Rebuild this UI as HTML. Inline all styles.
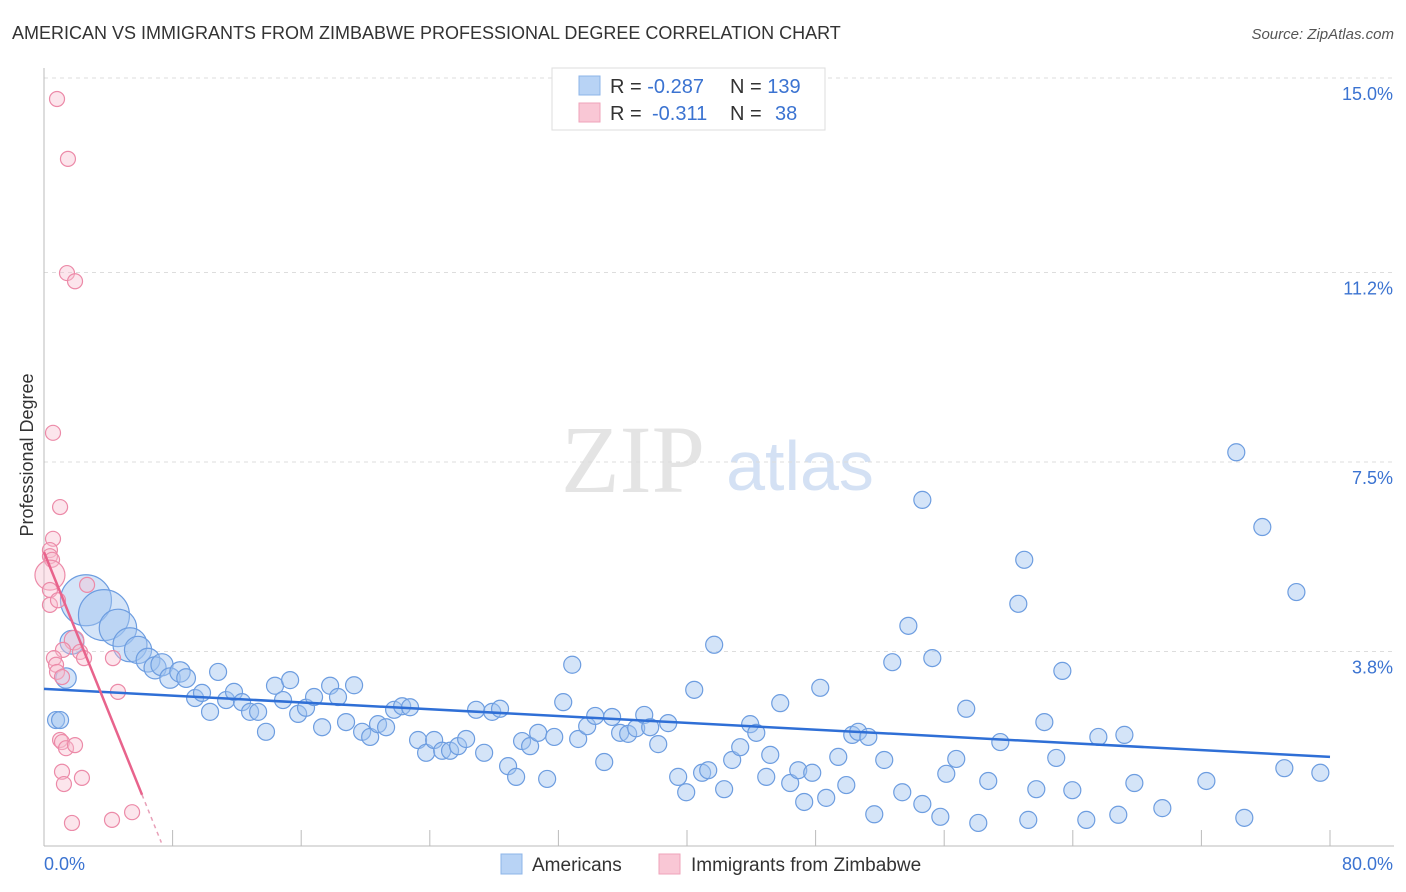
<!DOCTYPE html>
<html><head><meta charset="utf-8"><style>
body{margin:0;background:#fff;font-family:"Liberation Sans",sans-serif;}
svg{display:block}
</style></head><body>
<svg id="chart" width="1406" height="892" xmlns="http://www.w3.org/2000/svg">
<text x="12" y="39" font-size="18" fill="#333">AMERICAN VS IMMIGRANTS FROM ZIMBABWE PROFESSIONAL DEGREE CORRELATION CHART</text>
<text x="1394" y="39" font-size="15" fill="#555" font-style="italic" text-anchor="end">Source: ZipAtlas.com</text>
<text x="633" y="492" font-size="96" fill="#e4e4e4" font-family="Liberation Serif" text-anchor="middle">ZIP</text>
<text x="800" y="490" font-size="70" fill="#d4e1f4" text-anchor="middle">atlas</text>
<g id="grid"></g><g id="axes"></g><g id="marks"></g>
<text transform="translate(33,455) rotate(-90)" font-size="18" fill="#333" text-anchor="middle">Professional Degree</text>
<g>
<rect x="552" y="68" width="273" height="62" fill="#fff" stroke="#ddd"/>
<rect x="579" y="76" width="21" height="19" fill="#b8d3f5" stroke="#8db4e8"/>
<rect x="579" y="103" width="21" height="19" fill="#f9c7d5" stroke="#efa3ba"/>
<text x="610" y="93" font-size="20" fill="#333">R = <tspan fill="#3b73d1">-0.287</tspan><tspan x="730">N = </tspan><tspan fill="#3b73d1">139</tspan></text>
<text x="610" y="120" font-size="20" fill="#333">R = <tspan x="652" fill="#3b73d1">-0.311</tspan><tspan x="730">N = </tspan><tspan x="775" fill="#3b73d1">38</tspan></text>
</g>
<g>
<rect x="501" y="854" width="21" height="20" fill="#b8d3f5" stroke="#8db4e8"/>
<text x="532" y="871" font-size="19" fill="#333">Americans</text>
<rect x="659" y="854" width="21" height="20" fill="#f9c7d5" stroke="#efa3ba"/>
<text x="691" y="871" font-size="19" fill="#333">Immigrants from Zimbabwe</text>
</g>
</svg>
<script>
const yTicks=[3.8,7.5,11.2,15.0];
const yTickLabels=["3.8%","7.5%","11.2%","15.0%"];
const xTicks=[0,8,16,24,32,40,48,56,64,72,80];
const blueX=[2.61,3.73,4.60,5.35,5.85,6.47,6.91,7.34,7.84,8.46,8.84,0.75,1.00,1.37,1.74,9.40,9.83,10.33,10.83,11.33,11.82,12.32,12.82,13.32,13.81,14.37,14.87,15.31,15.81,16.30,16.80,17.30,17.80,18.29,18.79,19.29,19.79,20.29,20.78,21.28,21.78,22.28,22.77,23.27,23.77,24.27,24.77,25.26,25.76,26.26,26.88,27.38,27.88,28.37,28.87,29.37,29.74,30.24,30.74,31.30,31.74,32.30,32.86,33.23,33.79,34.29,34.85,35.34,35.84,36.34,36.84,37.34,37.71,38.21,38.83,39.45,39.95,40.45,40.94,41.32,41.69,42.31,42.81,43.31,43.93,44.31,44.93,45.18,45.80,46.42,46.92,47.29,47.79,48.29,48.66,49.41,49.91,50.28,50.65,51.28,51.65,52.27,52.77,53.39,53.77,54.64,54.64,55.26,55.76,56.13,56.75,57.37,58.12,58.74,59.49,60.61,60.98,61.23,61.73,62.23,62.97,63.35,63.97,64.84,65.59,66.83,67.21,67.83,69.57,72.31,74.17,74.67,75.79,77.16,77.91,79.40];
const blueY=[4.80,4.51,4.26,3.93,3.83,3.63,3.48,3.54,3.28,3.40,3.28,2.46,2.46,3.28,3.98,2.89,2.99,2.62,3.40,2.85,3.01,2.81,2.62,2.62,2.23,3.13,2.85,3.24,2.58,2.70,2.91,2.32,3.13,2.91,2.42,3.14,2.23,2.13,2.38,2.32,2.66,2.73,2.71,2.07,1.82,2.07,1.86,1.86,1.95,2.09,2.66,1.82,2.62,2.68,1.56,1.35,2.05,1.95,2.21,1.31,2.13,2.81,3.54,2.09,2.34,2.54,1.64,2.52,2.21,2.19,2.30,2.56,2.32,1.99,2.40,1.35,1.05,3.05,1.43,1.48,3.93,1.11,1.68,1.93,2.38,2.21,1.35,1.78,2.79,1.23,1.48,0.86,1.43,3.09,0.94,1.74,1.19,2.17,2.23,2.13,0.62,1.68,3.59,1.05,4.30,0.82,6.76,3.67,0.57,1.41,1.70,2.68,0.45,1.27,2.03,4.73,5.59,0.51,1.11,2.42,1.72,3.42,1.09,0.51,2.13,0.61,2.17,1.23,0.74,1.27,7.69,0.55,6.23,1.52,4.96,1.43];
const blueSize=[3,3,2.2,2,1.6,1.4,1.3,1.3,1.2,1.2,1.1,1,1,1.2,1.4];
const pinkX=[0.81,1.49,1.43,1.93,0.56,1.00,0.56,0.37,0.37,0.50,0.37,0.37,2.68,0.37,0.87,1.87,1.18,2.24,2.49,0.62,0.75,0.81,1.12,4.29,4.60,1.00,1.12,1.37,1.93,1.12,1.24,2.36,1.74,4.23,5.48];
const pinkY=[14.59,13.42,11.19,11.03,8.07,6.62,6.00,5.78,5.66,5.59,5.29,5.00,5.10,4.71,4.80,4.02,3.83,3.79,3.67,3.67,3.54,3.40,3.30,3.67,3.01,2.07,2.03,1.91,1.97,1.45,1.21,1.33,0.45,0.51,0.66];
const pinkSize=[1,1,1,1,1,1,1,1,1,1,2,1,1,1,1,1.3,1,1,1,1,1,1,1,1,1,1,1,1,1,1,1,1,1,1,1];
const blueTrend=[3.07,1.74];
const pinkTrend=[5.74,1.0];
const NS="http://www.w3.org/2000/svg";
const xS=v=>44+v*16.075;
const yS=v=>846-v*51.2;
function mk(tag,attrs,parent){const e=document.createElementNS(NS,tag);for(const k in attrs)e.setAttribute(k,attrs[k]);document.getElementById(parent).appendChild(e);return e;}
yTicks.forEach((t,i)=>{
 const l=mk('line',{x1:44,x2:1394,y1:yS(t),y2:yS(t),stroke:'#ddd','stroke-dasharray':'4,4'},'grid');
 
 
 const tx=mk('text',{x:1393,y:yS(t)+22,'font-size':18,fill:'#3b73d1','text-anchor':'end'},'grid');
 tx.textContent=yTickLabels[i];
 
 
});
const ax=mk('line',{x1:44,x2:44,y1:68,y2:846,stroke:'#bbb'},'axes');


const bx=mk('line',{x1:44,x2:1394,y1:846,y2:846,stroke:'#bbb'},'axes');


xTicks.forEach(t=>{
 const l=mk('line',{x1:xS(t),x2:xS(t),y1:830,y2:846,stroke:'#bbb'},'axes');
 
 
});
const x0=mk('text',{x:44,y:870,'font-size':18,fill:'#3b73d1'},'axes');x0.textContent='0.0%';


const x1=mk('text',{x:1393,y:870,'font-size':18,fill:'#3b73d1','text-anchor':'end'},'axes');x1.textContent='80.0%';


blueX.forEach((v,i)=>{
 const c=mk('circle',{cx:xS(v),cy:yS(blueY[i]),r:8.5*(blueSize[i]||1),fill:'rgba(160,195,240,0.45)',stroke:'#6d9de0','stroke-width':1.2},'marks');
 
 
});
pinkX.forEach((v,i)=>{
 const c=mk('circle',{cx:xS(v),cy:yS(pinkY[i]),r:7.5*(pinkSize[i]||1),fill:'rgba(248,190,208,0.4)',stroke:'#ec8aa8','stroke-width':1.2},'marks');
 
 
});
const bt=mk('line',{x1:xS(0),y1:yS(blueTrend[0]),x2:xS(80),y2:yS(blueTrend[1]),stroke:'#2f6fd6','stroke-width':2.5},'marks');


const slope=(pinkTrend[1]-pinkTrend[0])/6.1;
const pt=mk('line',{x1:xS(0),y1:yS(pinkTrend[0]),x2:xS(6.1),y2:yS(pinkTrend[1]),stroke:'#e8638c','stroke-width':2.5},'marks');


const pd=mk('line',{x1:xS(6.1),y1:yS(pinkTrend[1]),x2:xS(7.3),y2:yS(pinkTrend[0]+slope*7.3),stroke:'#e8a0b8','stroke-width':1.5,'stroke-dasharray':'4,4'},'marks');


</script>
</body></html>
